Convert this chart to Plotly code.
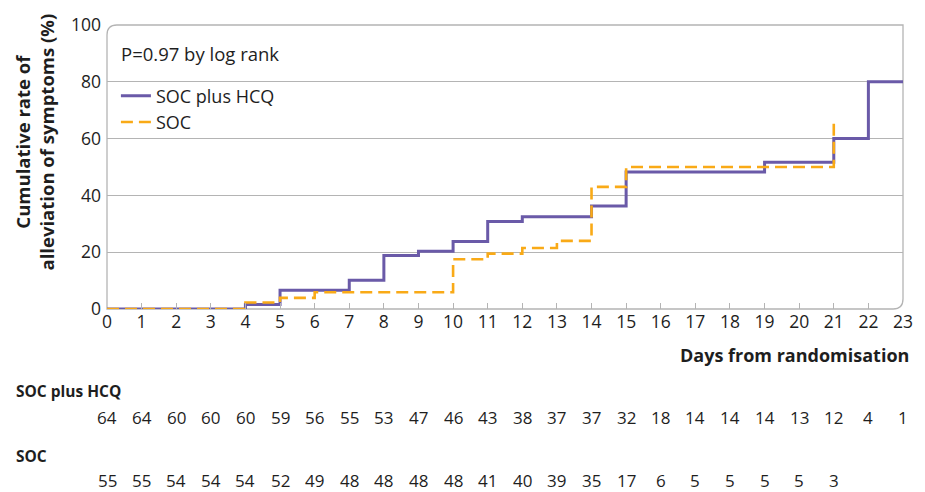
import plotly.graph_objects as go

# Data
hcq_days = [0, 4, 5, 7, 8, 9, 10, 11, 12, 14, 15, 19, 21, 22, 23]
hcq_vals = [0, 1.6, 6.6, 10.1, 18.8, 20.3, 23.8, 30.8, 32.5, 36.3, 48.2, 51.7, 60, 80, 80]
soc_days = [0, 4, 5, 6, 10, 11, 12, 13, 14, 15, 21]
soc_vals = [0, 2.3, 3.9, 5.9, 17.5, 19.5, 21.5, 24, 43, 50, 67]

risk_days = list(range(0, 24))
risk_hcq = [64, 64, 60, 60, 60, 59, 56, 55, 53, 47, 46, 43, 38, 37, 37, 32, 18, 14, 14, 14, 13, 12, 4, 1]
risk_soc = [55, 55, 54, 54, 54, 52, 49, 48, 48, 48, 48, 41, 40, 39, 35, 17, 6, 5, 5, 5, 5, 3]

PURPLE = "#6a5aa8"
ORANGE = "#f9aa17"
GRID = "#b4b4b4"
TXT = "#1e1e1e"
FONT = "Open Sans"

fig = go.Figure()
fig.add_trace(go.Scatter(x=hcq_days, y=hcq_vals, mode="lines", line_shape="hv",
                         name="SOC plus HCQ", line=dict(color=PURPLE, width=3)))
fig.add_trace(go.Scatter(x=soc_days, y=soc_vals, mode="lines", line_shape="hv",
                         name="SOC", line=dict(color=ORANGE, width=2.6, dash="12px,6px")))

W, H = 925, 492
PL, PR, PT, PB = 107, 911, 22, 309  # plot area in window pixels
L, T = PL, PT
R = W - PR
B = H - PB
pw, ph = W - L - R, H - T - B
rx, ry = 10 / pw, 10 / ph

def px(pix):
    return (pix - PL) / pw

def py(pix):
    return (PB - pix) / ph

def note(text, x, y, xanchor="left", size=17, xref="paper", angle=0):
    return dict(text=text, x=x, y=y, xref=xref, yref="paper", xanchor=xanchor, yanchor="middle",
                textangle=angle, showarrow=False, font=dict(size=size, color=TXT, family=FONT))

ann = [
    note("P=0.97 by log rank", px(119), py(51), size=18.5),
    note("<b>Days from randomisation</b>", px(919), py(355), xanchor="right", size=18),
    note("<b>Cumulative rate of<br>alleviation of symptoms (%)</b>", px(34), py(140),
         xanchor="center", size=18.5, angle=-90),
    note("<b>SOC plus HCQ</b>", px(13), py(392), size=15.5),
    note("<b>SOC</b>", px(13), py(458), size=15.5),
]
for d, v in zip(risk_days, risk_hcq):
    ann.append(note(str(v), d, py(419), xanchor="center", size=17, xref="x"))
for d, v in zip(risk_days, risk_soc):
    ann.append(note(str(v), d, py(482), xanchor="center", size=17, xref="x"))

box = f"M 0,0 L 0,{1 - ry} Q 0,1 {rx},1 L 1,1 L 1,{ry} Q 1,0 {1 - rx},0 Z"

fig.update_layout(
    width=W, height=H,
    margin=dict(l=L, r=R, t=T, b=B),
    paper_bgcolor="white", plot_bgcolor="white",
    font=dict(family=FONT, size=17, color=TXT),
    showlegend=True,
    legend=dict(x=px(116), y=py(75), xanchor="left", yanchor="top", bgcolor="rgba(0,0,0,0)",
                font=dict(size=18, color=TXT, family=FONT), tracegroupgap=0),
    xaxis=dict(range=[0, 23], tickmode="array", tickvals=risk_days, showgrid=False, zeroline=False,
               ticks="inside", ticklen=6, tickcolor=GRID, tickwidth=1, showline=False,
               tickfont=dict(size=17.5, color=TXT)),
    yaxis=dict(range=[0, 100], tickvals=[0, 20, 40, 60, 80, 100], showgrid=True, gridcolor=GRID,
               gridwidth=1, zeroline=False, showline=False, ticks="", ticklabelstandoff=5,
               tickfont=dict(size=17.5, color=TXT)),
    annotations=ann,
    shapes=[dict(type="path", path=box, xref="paper", yref="paper",
                 line=dict(color=GRID, width=1.3), fillcolor="rgba(0,0,0,0)", layer="below")],
)

fig.write_html("out.html", config={"displayModeBar": False},
               post_script="document.body.style.margin='0';document.body.style.overflow='hidden';")
